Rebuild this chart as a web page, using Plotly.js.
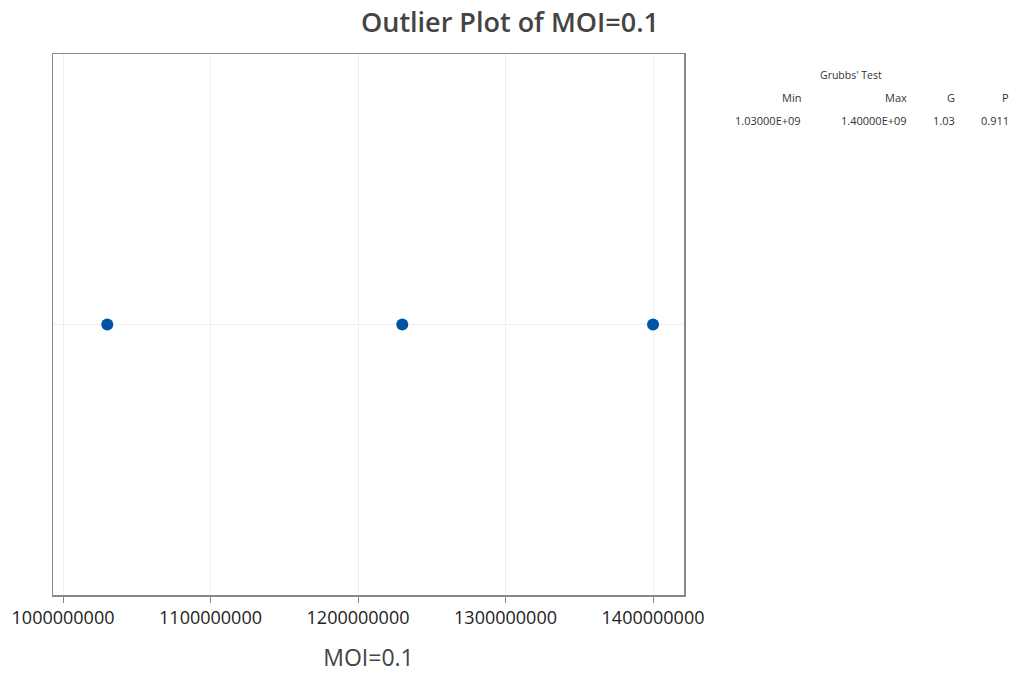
<!DOCTYPE html>
<html>
<head>
<meta charset="utf-8">
<script src="https://cdn.plot.ly/plotly-3.0.1.min.js"></script>
<style>html,body{margin:0;padding:0;background:#fff;}#chart{width:1020px;height:673px;}</style>
</head>
<body>
<div id="chart"></div>
<script>
const values = [1030000000, 1230000000, 1400000000];
const yLevel = [0, 0, 0];
const tickVals = [1000000000, 1100000000, 1200000000, 1300000000, 1400000000];
const tickText = ["1000000000", "1100000000", "1200000000", "1300000000", "1400000000"];
const tableHeaders = ["Min", "Max", "G", "P"];
const tableValues = ["1.03000E+09", "1.40000E+09", "1.03", "0.911"];
const tableTitle = "Grubbs' Test";

const trace = {
  x: values, y: yLevel, type: 'scatter', mode: 'markers',
  marker: {color: '#0054a6', size: 12},
  hoverinfo: 'x', showlegend: false
};

const colRight = [803, 909, 957, 1011];
const font = "Open Sans, Noto Sans, sans-serif";
const annotations = [];
annotations.push({xref:'paper', yref:'paper', x: (851-53)/631, y: 1-(75-54)/541, text: tableTitle, showarrow:false, xanchor:'center', yanchor:'middle', font:{size:10.5, color:'#333', family:font}});
tableHeaders.forEach((h,i)=>{
  annotations.push({xref:'paper', yref:'paper', x:(colRight[i]-53)/631, y:1-(97-54)/541, text:h, showarrow:false, xanchor:'right', yanchor:'middle', font:{size:11,color:'#333',family:font}});
  annotations.push({xref:'paper', yref:'paper', x:(colRight[i]-53)/631, y:1-(120-54)/541, text:tableValues[i], showarrow:false, xanchor:'right', yanchor:'middle', font:{size:11,color:'#333',family:font}});
});

const layout = {
  width: 1020, height: 673,
  margin: {l: 53, r: 336, t: 54, b: 78},
  paper_bgcolor: '#fff', plot_bgcolor: '#fff',
  title: {text: 'Outlier Plot of MOI=0.1', x: 0.5, xref: 'container', y: 0.967, yref: 'container', yanchor:'middle', xanchor:'center',
          font: {size: 27, color: '#444', family: font, weight: 600}},
  xaxis: {
    range: [993200000, 1421000000], tickvals: tickVals, ticktext: tickText,
    ticks: 'outside', ticklen: 6, tickcolor: '#888', tickwidth: 1,
    showgrid: true, gridcolor: '#efefef', gridwidth: 1, zeroline: false,
    showline: true, linecolor: '#888', linewidth: 1.5, mirror: true,
    tickfont: {size: 18, color: '#222', family: font},
    title: {text: 'MOI=0.1', font: {size: 23, color: '#444', family: font}, standoff: 22}
  },
  yaxis: {
    range: [-1, 1], showticklabels: false, ticks: '',
    tickvals: [0], showgrid: true, gridcolor: '#efefef', zeroline: false,
    showline: true, linecolor: '#888', linewidth: 1.5, mirror: true
  },
  annotations: annotations
};

Plotly.newPlot('chart', [trace], layout, {displayModeBar: false, staticPlot: true});
</script>
</body>
</html>
